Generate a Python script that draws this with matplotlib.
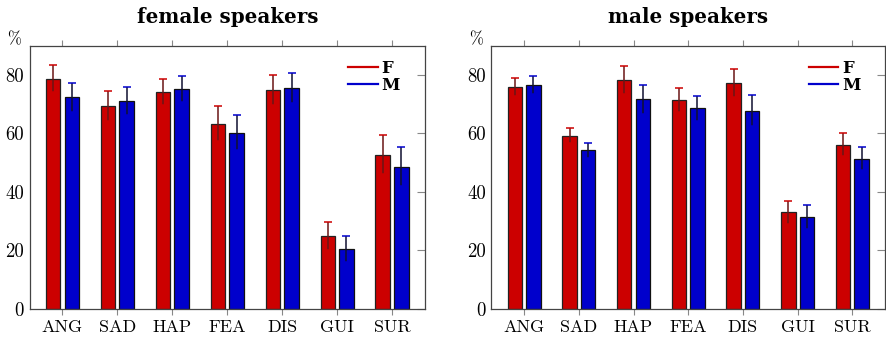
import numpy as np
import matplotlib.pyplot as plt

categories = ["ANG", "SAD", "HAP", "FEA", "DIS", "GUI", "SUR"]

# female speakers panel
fem_F = [78.7, 69.4, 74.1, 63.4, 74.9, 25.0, 52.8]
fem_F_err = [4.6, 5.0, 4.4, 6.0, 5.1, 4.7, 6.7]
fem_M = [72.4, 71.2, 75.1, 60.3, 75.5, 20.5, 48.7]
fem_M_err = [5.0, 4.8, 4.5, 6.1, 5.1, 4.3, 6.7]

# male speakers panel
male_F = [75.9, 59.2, 78.3, 71.5, 77.4, 33.0, 56.2]
male_F_err = [3.1, 2.5, 4.7, 4.1, 4.8, 3.9, 3.8]
male_M = [76.7, 54.3, 71.7, 68.6, 67.8, 31.4, 51.4]
male_M_err = [3.1, 2.6, 4.9, 4.2, 5.4, 4.0, 4.0]

RED = "#cc0000"
BLUE = "#0000cc"
RM = "cmr10"
BF = "DejaVu Serif"

plt.rcParams["axes.formatter.use_mathtext"] = True


def panel(ax, title, f, ferr, m, merr):
    x = np.arange(len(categories))
    w = 0.265
    off = 0.17
    ax.bar(x - off, f, w, color=RED, edgecolor="#222222", linewidth=0.9, zorder=2)
    ax.bar(x + off, m, w, color=BLUE, edgecolor="#111111", linewidth=0.9, zorder=2)
    for xs, ys, es, lc, cc in [(x - off, f, ferr, "#6a1515", RED),
                                (x + off, m, merr, "#101030", BLUE)]:
        _, caps, _ = ax.errorbar(xs, ys, yerr=es, fmt="none", ecolor=lc,
                                 elinewidth=1.1, capsize=3, capthick=1.1, zorder=3)
        for c in caps:
            c.set_markeredgecolor(cc)
    ax.plot([], [], color=RED, lw=1.6, label="F")
    ax.plot([], [], color=BLUE, lw=1.6, label="M")
    ax.legend(loc="upper right", frameon=False, handlelength=1.75,
              handletextpad=0.25, labelspacing=0.0, borderpad=0,
              borderaxespad=0,
              prop={"family": BF, "weight": "bold", "size": 12},
              bbox_to_anchor=(0.937, 0.945))

    ax.set_xlim(-0.6, 6.6)
    ax.set_ylim(0, 90)
    ax.set_xticks(x)
    ax.set_xticklabels(categories, family=RM, fontsize=13)
    ax.set_yticks([0, 20, 40, 60, 80])
    ax.set_yticklabels(["0", "20", "40", "60", "80"], family=RM, fontsize=13.5)
    ax.tick_params(axis="x", direction="out", length=4.5, color="#888888",
                   top=True, pad=3)
    ax.tick_params(axis="y", direction="in", length=5.5, color="#888888",
                   left=False, right=True, labelleft=True, pad=4)
    for s in ax.spines.values():
        s.set_color("#444444")
        s.set_linewidth(0.9)
    ax.set_title(title, family=BF, weight="bold", fontsize=14.3, pad=16)
    ax.text(-0.022, 1.005, "%", transform=ax.transAxes, family=RM,
            fontsize=12, ha="right", va="baseline")


fig = plt.figure(figsize=(8.86, 3.38), dpi=100)
ax1 = fig.add_axes([0.0333, 0.0858, 0.4464, 0.779])
ax2 = fig.add_axes([0.5545, 0.0858, 0.4445, 0.779])

panel(ax1, "female speakers", fem_F, fem_F_err, fem_M, fem_M_err)
panel(ax2, "male speakers", male_F, male_F_err, male_M, male_M_err)

fig.savefig("out.png", dpi=100)
